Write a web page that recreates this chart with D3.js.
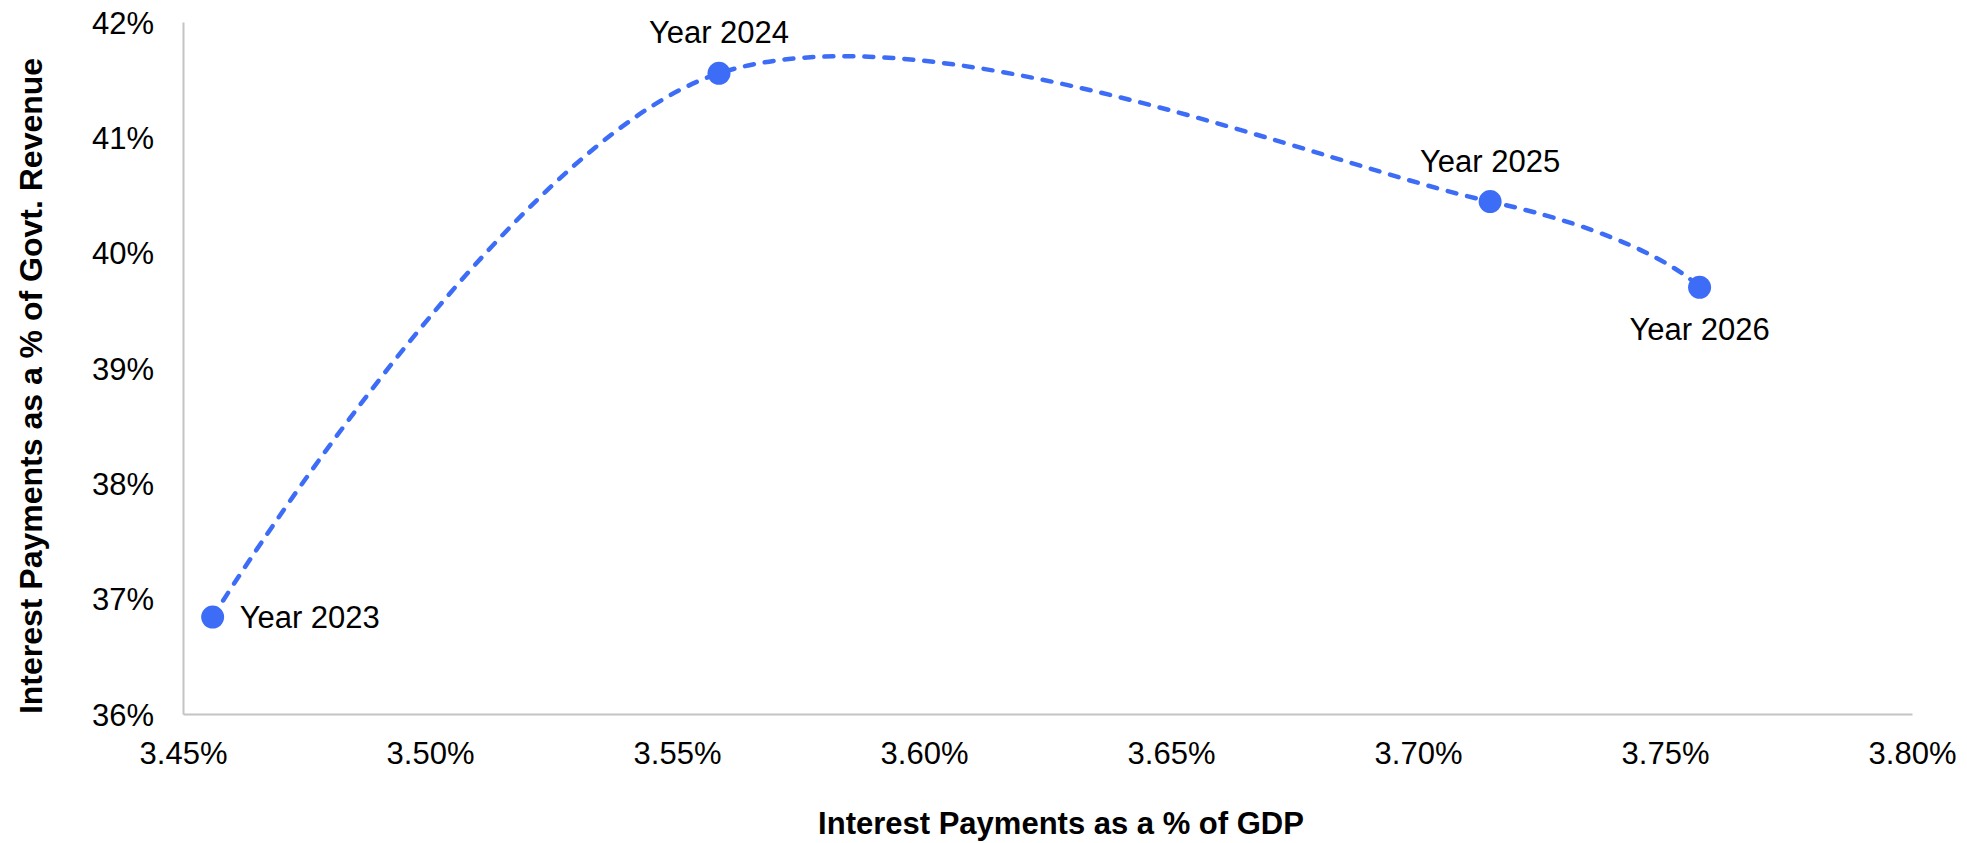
<!DOCTYPE html>
<html>
<head>
<meta charset="utf-8">
<script src="https://cdn.jsdelivr.net/npm/d3@7"></script>
<style>
  html, body { margin: 0; padding: 0; background: #fff; }
  svg { display: block; font-family: "Liberation Sans", Arial, sans-serif; }
</style>
</head>
<body>
<svg id="chart" width="1967" height="843"></svg>
<script>
// Interest payments: share of GDP vs share of government revenue, by year
const yearLabels   = ["Year 2023", "Year 2024", "Year 2025", "Year 2026"];
const gdpShare     = [3.456, 3.5585, 3.7146, 3.757];   // % of GDP
const revenueShare = [36.84, 41.555, 40.443, 39.70];   // % of govt. revenue
const xTicks = [3.45, 3.50, 3.55, 3.60, 3.65, 3.70, 3.75, 3.80];
const yTicks = [36, 37, 38, 39, 40, 41, 42];
// label placement per point: "right", "above", "below"
const labelSide = ["right", "above", "above", "below"];

const width = 1967, height = 843;
const margin = { top: 22, right: 55, bottom: 129, left: 183 };
const blue = "#3D6DF7";
const axisGrey = "#C4C4C4";

const svg = d3.select("#chart");
const x = d3.scaleLinear().domain([3.45, 3.80]).range([margin.left, width - margin.right]);
const y = d3.scaleLinear().domain([36, 42]).range([height - margin.bottom, margin.top]);

const points = yearLabels.map((label, i) => ({ label, gx: gdpShare[i], ry: revenueShare[i], side: labelSide[i] }));

// X axis
const xAxis = svg.append("g")
  .attr("transform", `translate(0,${height - margin.bottom})`)
  .call(d3.axisBottom(x).tickValues(xTicks).tickSize(0).tickPadding(0)
    .tickFormat(d => d3.format(".2f")(d) + "%"));
xAxis.select(".domain").attr("stroke", axisGrey).attr("stroke-width", 2);
xAxis.selectAll("text")
  .attr("font-size", 31).attr("fill", "#000")
  .attr("font-family", "Liberation Sans, Arial, sans-serif")
  .attr("y", 50).attr("dy", 0);

// Y axis
const yAxis = svg.append("g")
  .attr("transform", `translate(${margin.left},0)`)
  .call(d3.axisLeft(y).tickValues(yTicks).tickSize(0).tickPadding(29)
    .tickFormat(d => d + "%"));
yAxis.select(".domain").attr("stroke", axisGrey).attr("stroke-width", 2);
yAxis.selectAll("text")
  .attr("font-size", 31).attr("fill", "#000")
  .attr("font-family", "Liberation Sans, Arial, sans-serif")
  .attr("dy", "0.36em");

// Smoothed dashed connector
const line = d3.line()
  .x(d => x(d.gx))
  .y(d => y(d.ry))
  .curve(d3.curveCardinal.tension(0));
svg.append("path")
  .datum(points)
  .attr("d", line)
  .attr("fill", "none")
  .attr("stroke", blue)
  .attr("stroke-width", 4.5)
  .attr("stroke-dasharray", "9,11")
  .attr("stroke-linecap", "round");

// Markers
svg.append("g").selectAll("circle")
  .data(points)
  .join("circle")
  .attr("cx", d => x(d.gx))
  .attr("cy", d => y(d.ry))
  .attr("r", 11.5)
  .attr("fill", blue);

// Point labels
svg.append("g").selectAll("text")
  .data(points)
  .join("text")
  .attr("font-size", 31)
  .attr("fill", "#000")
  .attr("text-anchor", d => d.side === "right" ? "start" : "middle")
  .attr("x", d => d.side === "right" ? x(d.gx) + 27 : x(d.gx))
  .attr("y", d => d.side === "right" ? y(d.ry) + 11 : d.side === "above" ? y(d.ry) - 30 : y(d.ry) + 53)
  .text(d => d.label);

// Axis titles
svg.append("text")
  .attr("x", 1061).attr("y", 834)
  .attr("text-anchor", "middle")
  .attr("font-size", 31).attr("font-weight", "bold")
  .text("Interest Payments as a % of GDP");

svg.append("text")
  .attr("transform", "translate(42,386) rotate(-90)")
  .attr("text-anchor", "middle")
  .attr("font-size", 32).attr("font-weight", "bold")
  .text("Interest Payments as a % of Govt. Revenue");
</script>
</body>
</html>
